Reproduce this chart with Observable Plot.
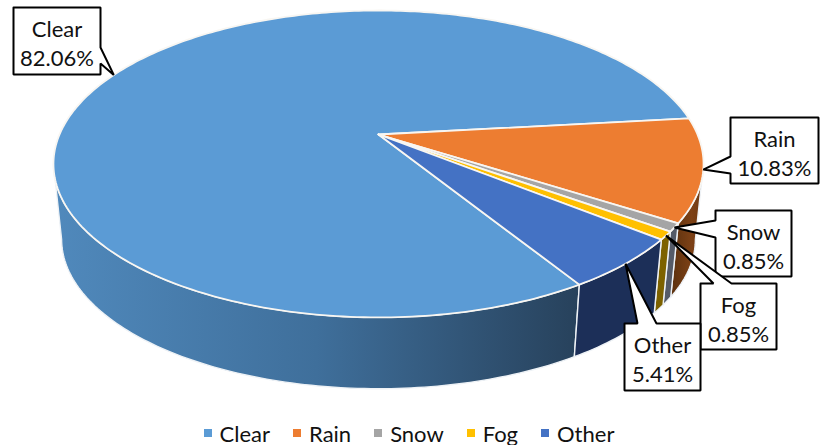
<!DOCTYPE html>
<html><head><meta charset="utf-8">
<script src="https://cdn.jsdelivr.net/npm/d3@7"></script>
<script src="https://cdn.jsdelivr.net/npm/@observablehq/plot@0.6"></script>
<style>
html,body{margin:0;padding:0;background:#fff;overflow:hidden}
#legend{position:relative;top:3px;height:30px;font:22px Lato,sans-serif;color:#111;display:flex;justify-content:center;align-items:center;gap:23px;padding-right:5px;box-sizing:border-box;width:823px}
#legend span.i{display:flex;align-items:center;gap:8px}
#legend i{display:inline-block;width:8px;height:8px}
svg{display:block}
</style></head><body>
<div id="chart"></div><div id="legend"></div>
<script>
const categories = ["Clear","Rain","Snow","Fog","Other"];
const shares = [82.06,10.83,0.85,0.85,5.41];
const topColors = ["#5b9bd5","#ed7d31","#a5a5a5","#ffc000","#4472c4"];
const wallColors = ["url(#clearWall)","url(#rainWall)","#555b68","#7d6200","#1c2f58"];

const W=823,H=415;
const firstSliceAngle=58.2;
const persp=-0.192;
const topDisc={cx:378,cy:134,a:319,b:147.8};
const baseDisc={cx:378,cy:210,a:311,b:144};
const rad=d=>d*Math.PI/180;
function rim(d,t){const u=Math.cos(rad(t)),v=Math.sin(rad(t)),q=1+persp*v;
  return {x:d.cx+d.a*u/q,y:d.cy+d.b*v/q};}
function arc(d,a0,a1){const n=Math.max(2,Math.ceil(Math.abs(a1-a0)));
  return d3.range(n+1).map(i=>rim(d,a0+(a1-a0)*i/n));}

let acc=firstSliceAngle;
const slices=categories.map((c,i)=>{const a0=acc,a1=acc+shares[i]*3.6;acc=a1;
  return {name:c,share:shares[i],a0,a1,mid:(a0+a1)/2,fill:topColors[i],wall:wallColors[i]};});

const sil=Math.asin(-persp)*180/Math.PI;
function visible(s){for(const k of [0,-360]){const a=Math.max(s.a0+k,sil),b=Math.min(s.a1+k,180-sil);
  if(b>a) return [a,b];} return null;}
const ring=pts=>[...pts,pts[0]];

const wallMarks=slices.filter(visible).map(s=>{const [a,b]=visible(s);
  return Plot.line(ring([...arc(topDisc,a,b),...arc(baseDisc,b,a)]),
    {x:"x",y:"y",fill:s.wall,stroke:"#eef2f6",strokeWidth:1.4,curve:"linear"});});
const topMarks=slices.map(s=>Plot.line(ring([{x:topDisc.cx,y:topDisc.cy},...arc(topDisc,s.a0,s.a1)]),
    {x:"x",y:"y",fill:s.fill,stroke:"#f8f6f2",strokeWidth:1.8,strokeLinejoin:"round",curve:"linear"}));

// callout boxes: box, tail side and tail base; the tip sits on the rim at the middle of the slice
const boxes={
  Clear:{x0:13,x1:100,y0:7,y1:74,side:"right",t0:47,t1:63},
  Rain:{x0:730,x1:818,y0:117,y1:183,side:"left",t0:173,t1:156},
  Snow:{x0:715,x1:791,y0:210,y1:276,side:"left",t0:237,t1:220},
  Fog:{x0:700,x1:776,y0:283,y1:349,side:"top",t0:713,t1:731},
  Other:{x0:624,x1:700,y0:323,y1:390,side:"top",t0:637,t1:656}
};
function callout(s){const b=boxes[s.name],tip=rim(topDisc,s.mid),p=[];
  p.push({x:b.x0,y:b.y0});
  if(b.side==="top"){p.push({x:b.t0,y:b.y0},tip,{x:b.t1,y:b.y0});}
  p.push({x:b.x1,y:b.y0});
  if(b.side==="right"){p.push({x:b.x1,y:b.t0},tip,{x:b.x1,y:b.t1});}
  p.push({x:b.x1,y:b.y1},{x:b.x0,y:b.y1});
  if(b.side==="left"){p.push({x:b.x0,y:b.t0},tip,{x:b.x0,y:b.t1});}
  return ring(p);}
const drawOrder=["Clear","Rain","Snow","Fog","Other"];
const calloutMarks=drawOrder.flatMap(n=>{const s=slices.find(d=>d.name===n),b=boxes[n];
  return [Plot.line(callout(s),{x:"x",y:"y",fill:"white",stroke:"black",strokeWidth:2,strokeLinejoin:"miter",curve:"linear"}),
  Plot.text([s],{x:()=>(b.x0+b.x1)/2,y:()=>(b.y0+b.y1)/2+1.5,text:d=>`${d.name}\n${d.share.toFixed(2)}%`,
    fontSize:22,lineHeight:1.33,fill:"#111",textAnchor:"middle",lineAnchor:"middle"})];});

function defs(){
  const d=d3.create("svg:defs");
  const g=(id,x1,x2,stops)=>{const l=d.append("linearGradient").attr("id",id).attr("gradientUnits","userSpaceOnUse")
    .attr("x1",x1).attr("x2",x2).attr("y1",0).attr("y2",0);
    stops.forEach(([o,c])=>l.append("stop").attr("offset",o).attr("stop-color",c));};
  g("clearWall",53,580,[[0,"#5089bc"],[0.5,"#3f6f9b"],[1,"#27415b"]]);
  g("rainWall",670,705,[[0,"#5a300e"],[0.6,"#7d4116"],[1,"#6a3710"]]);
  return d.node();
}

const plot=Plot.plot({width:W,height:H,margin:0,
  x:{domain:[0,W],range:[0,W],axis:null},
  y:{domain:[0,H],range:[0,H],axis:null},
  style:{fontFamily:"Lato, sans-serif",background:"white"},
  marks:[defs,...wallMarks,...topMarks,...calloutMarks]});
document.getElementById("chart").append(plot);

const lg=document.getElementById("legend");
categories.forEach((c,i)=>{const e=document.createElement("span");e.className="i";
  const sw=document.createElement("i");sw.style.background=topColors[i];
  e.append(sw,document.createTextNode(c));lg.append(e);});
</script></body></html>
